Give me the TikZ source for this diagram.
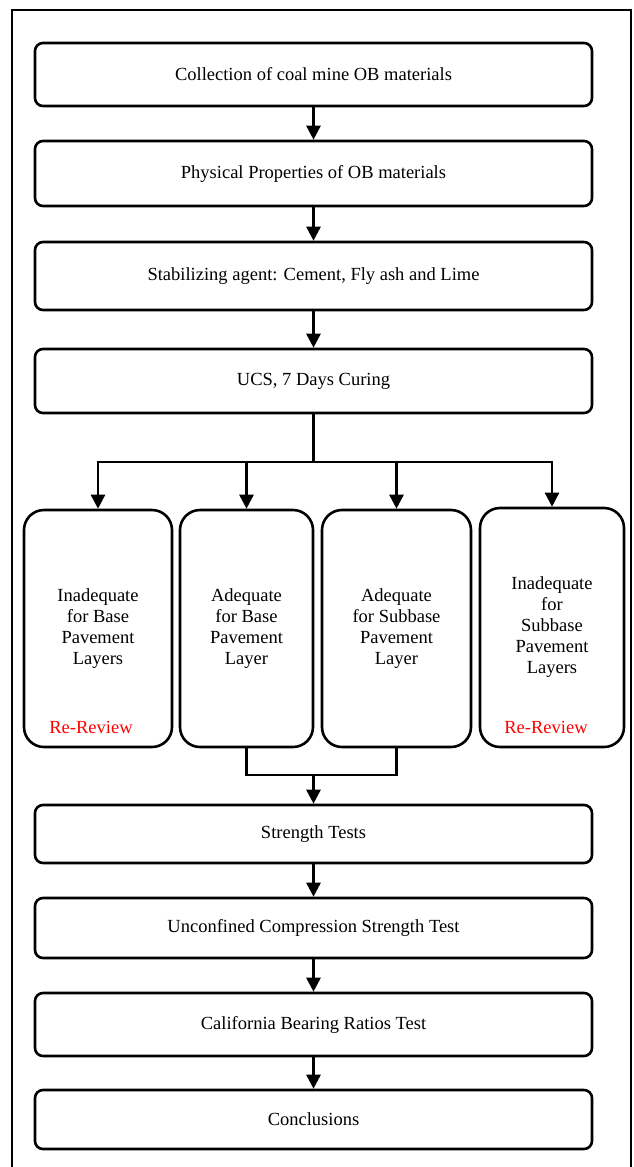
\documentclass[tikz,border=0pt]{standalone}
\usepackage{fontspec}
\setmainfont{Liberation Serif}
\usetikzlibrary{arrows.meta}
\begin{document}
\begin{tikzpicture}[x=1pt,y=-1pt,
  every node/.style={font=\fontsize{18.5}{21}\selectfont},
  mainbox/.style={draw,line width=2.6pt,rounded corners=8pt,minimum width=557pt,inner sep=0pt},
  smallbox/.style={draw,line width=2.6pt,rounded corners=20pt,inner sep=0pt,align=center},
  link/.style={line width=2.6pt},
  arr/.style={line width=2.6pt,-{Triangle[width=14pt,length=14pt]}},
  redtxt/.style={text=red}]
\useasboundingbox (0,0) rectangle (633,1167);
\draw[line width=2pt] (12,1175) -- (12,10) -- (631,10) -- (631,1175);

\node[mainbox,minimum height=63pt] (c1) at (313.5,74.5) {Collection of coal mine OB materials};
\node[mainbox,minimum height=65pt] (c2) at (313.5,173.5) {Physical Properties of OB materials};
\node[mainbox,minimum height=68pt] (c3) at (313.5,276) {Stabilizing agent: Cement, Fly ash and Lime};
\node[mainbox,minimum height=64pt] (c4) at (313.5,381) {UCS, 7 Days Curing};

\node[smallbox,minimum width=148pt,minimum height=237pt] (b1) at (98,628.5) {Inadequate\\for Base\\Pavement\\Layers};
\node[smallbox,minimum width=133pt,minimum height=237pt] (b2) at (246.5,628.5) {Adequate\\for Base\\Pavement\\Layer};
\node[smallbox,minimum width=149pt,minimum height=237pt] (b3) at (396.5,628.5) {Adequate\\for Subbase\\Pavement\\Layer};
\node[smallbox,minimum width=144pt,minimum height=239pt] (b4) at (552,627.5) {Inadequate\\for\\Subbase\\Pavement\\Layers};
\node[redtxt] (r1) at (91,727) {Re-Review};
\node[redtxt] (r4) at (546,727) {Re-Review};

\node[mainbox,minimum height=58pt] (c5) at (313.5,834) {Strength Tests};
\node[mainbox,minimum height=60pt] (c6) at (313.5,928) {Unconfined Compression Strength Test};
\node[mainbox,minimum height=63pt] (c7) at (313.5,1024.5) {California Bearing Ratios Test};
\node[mainbox,minimum height=59pt] (c8) at (313.5,1119.5) {Conclusions};

\draw[arr] (c1.south) -- (c2.north);
\draw[arr] (c2.south) -- (c3.north);
\draw[arr] (c3.south) -- (c4.north);

\coordinate (br) at (313.5,462);
\draw[link] (c4.south) -- (br);
\draw[arr] (br) -| (b1.north);
\draw[arr] (br) -| (b2.north);
\draw[arr] (br) -| (b3.north);
\draw[arr] (br) -| (b4.north);

\coordinate (mg) at (313.5,775);
\draw[link] (b2.south) |- (b3.south |- mg) -- (b3.south);
\draw[arr] (mg) -- (c5.north);
\draw[arr] (c5.south) -- (c6.north);
\draw[arr] (c6.south) -- (c7.north);
\draw[arr] (c7.south) -- (c8.north);
\end{tikzpicture}
\end{document}
